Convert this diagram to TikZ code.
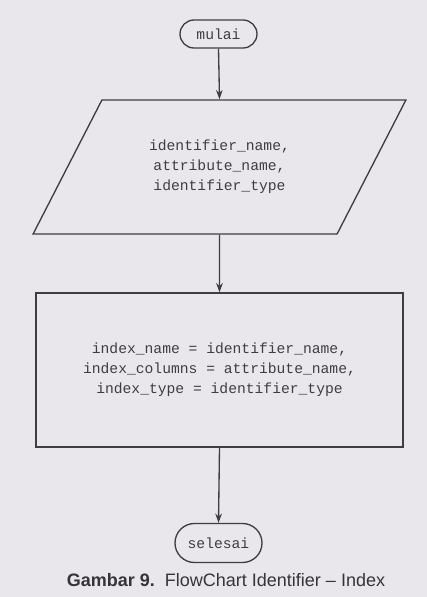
\documentclass[tikz,border=0pt]{standalone}
\usepackage{fontspec}
\setsansfont{Liberation Sans}
\setmonofont{Liberation Mono}
\usetikzlibrary{arrows.meta,shapes.geometric}
\definecolor{paper}{RGB}{233,231,236}
\definecolor{ink}{RGB}{62,62,66}
\tikzset{
  termbox/.style={draw=ink, rectangle, rounded corners=#1, inner sep=0pt},
  flowtext/.style={font=\ttfamily\fontsize{11}{15}\selectfont, text=ink, align=center},
  flowline/.style={draw=ink, line width=1pt, -{Stealth[length=7pt,width=5pt]}}
}
\begin{document}
\begin{tikzpicture}[x=0.75pt,y=-0.75pt]
\fill[paper] (0,0) rectangle (427,597); % sheet

\node[termbox=10.5pt, flowtext, line width=1pt, minimum width=57.75pt, minimum height=21pt] (mulai) at (218.5,34) {mulai}; % start
\node[trapezium, trapezium left angle=55, trapezium right angle=125, trapezium stretches=true,
      draw=ink, line width=1pt, flowtext, minimum width=279.75pt, minimum height=100.5pt] (input) at (219.5,167)
      {identifier\_name,\\attribute\_name,\\identifier\_type}; % input
\node[draw=ink, line width=1pt, flowtext, minimum width=275.25pt, minimum height=115.5pt] (proses) at (219.5,370)
      {index\_name = identifier\_name,\\index\_columns = attribute\_name,\\index\_type = identifier\_type}; % process
\node[termbox=14.6pt, flowtext, line width=1pt, minimum width=65.25pt, minimum height=29.25pt] (selesai) at (218.5,543) {selesai}; % end

\draw[flowline] (mulai.south) -- (input.north); % mulai-input
\draw[flowline] (input.south) -- (proses.north); % input-proses
\draw[flowline] (proses.south) -- (selesai.north); % proses-selesai

\node[font=\sffamily\fontsize{13.5}{15}\selectfont, text=ink!85!black] (caption) at (226,580)
      {\textbf{Gambar 9.}\ \ FlowChart Identifier -- Index}; % caption
\end{tikzpicture}
\end{document}
